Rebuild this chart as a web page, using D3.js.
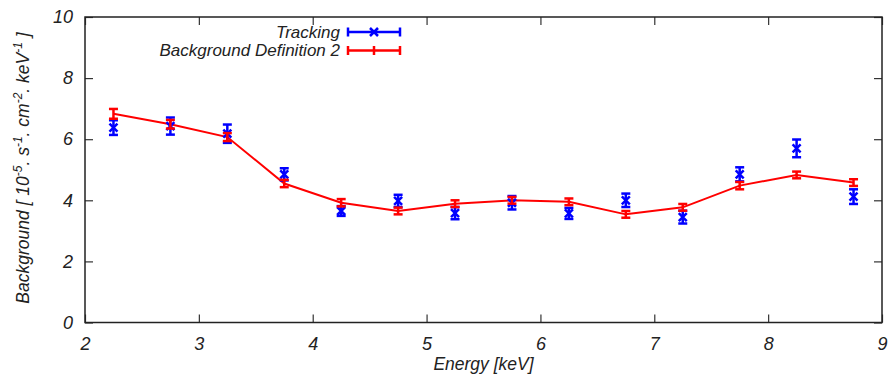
<!DOCTYPE html>
<html><head><meta charset="utf-8">
<script src="https://cdn.jsdelivr.net/npm/d3@7/dist/d3.min.js"></script>
<style>
body{margin:0;background:#fff;}
text{font-family:"Liberation Sans",Arial,sans-serif;font-style:italic;fill:#222;}
</style></head>
<body><svg id="c" width="888" height="376"></svg>
<script>
const energy = [2.25,2.75,3.25,3.75,4.25,4.75,5.25,5.75,6.25,6.75,7.25,7.75,8.25,8.75];
const trackingVal = [6.38,6.43,6.18,4.85,3.65,3.98,3.58,3.92,3.57,4.00,3.45,4.85,5.70,4.12];
const trackingErr = [0.24,0.28,0.30,0.20,0.16,0.20,0.20,0.22,0.18,0.22,0.21,0.23,0.29,0.24];
const bg2Val = [6.83,6.49,6.07,4.55,3.92,3.65,3.89,4.00,3.95,3.54,3.77,4.48,4.83,4.58];
const bg2Err = [0.16,0.14,0.13,0.12,0.12,0.11,0.11,0.11,0.11,0.11,0.11,0.12,0.11,0.11];
const xTicks = [2,3,4,5,6,7,8,9];
const yTicks = [0,2,4,6,8,10];
const seriesNames = ["Tracking","Background Definition 2"];

const svg = d3.select("#c");
const L=85,R=882,T=17,B=322.5;
const x = d3.scaleLinear().domain([2,9]).range([L,R]);
const y = d3.scaleLinear().domain([0,10]).range([B,T]);
const tl = 8;
const fmt = d3.format("d");

const gx = svg.append("g").attr("transform",`translate(0,${B})`)
  .call(d3.axisBottom(x).tickValues(xTicks).tickFormat(fmt).tickSizeInner(-tl).tickSizeOuter(0));
const gxt = svg.append("g").attr("transform",`translate(0,${T})`)
  .call(d3.axisTop(x).tickValues(xTicks).tickSizeInner(-tl).tickSizeOuter(0).tickFormat(""));
const gy = svg.append("g").attr("transform",`translate(${L},0)`)
  .call(d3.axisLeft(y).tickValues(yTicks).tickFormat(fmt).tickSizeInner(-tl).tickSizeOuter(0).tickPadding(12));
const gyr = svg.append("g").attr("transform",`translate(${R},0)`)
  .call(d3.axisRight(y).tickValues(yTicks).tickSizeInner(-tl).tickSizeOuter(0).tickFormat(""));
[gx,gxt,gy,gyr].forEach(g=>{
  g.select(".domain").remove();
  g.selectAll(".tick line").attr("stroke","#333").attr("stroke-width",1.2);
  g.selectAll("text").attr("font-family","Liberation Sans, Arial, sans-serif").attr("font-style","italic").attr("font-size",18).attr("fill","#222");
});
gx.selectAll("text").attr("dy","0.71em").attr("y",15);
svg.append("rect").attr("x",L).attr("y",T).attr("width",R-L).attr("height",B-T)
  .attr("fill","none").attr("stroke","#222").attr("stroke-width",1.5);

svg.append("text").attr("x",(L+R)/2).attr("y",370).attr("text-anchor","middle").attr("font-size",17.5).text("Energy [keV]");
const yl = svg.append("text").attr("transform","translate(29,168) rotate(-90)").attr("text-anchor","middle").attr("font-size",17.5);
const parts = [["Background [ 10",0],["-5",1],[". s",0],["-1",1],[". cm",0],["-2",1],[". keV",0],["-1",1],[" ]",0]];
let prevSup=false;
parts.forEach(([t,s])=>{
  const sp = yl.append("tspan").text(t);
  if(s){sp.attr("dy",-7).attr("font-size",12);}
  else if(prevSup){sp.attr("dy",7);}
  prevSup=!!s;
});

function drawSeries(vals, errs, color, cross){
  const g = svg.append("g");
  const cap=4.5;
  energy.forEach((e,i)=>{
    const cx=x(e), y1=y(vals[i]-errs[i]), y2=y(vals[i]+errs[i]);
    g.append("line").attr("x1",cx).attr("x2",cx).attr("y1",y1).attr("y2",y2).attr("stroke",color).attr("stroke-width",2.5);
    g.append("line").attr("x1",cx-cap).attr("x2",cx+cap).attr("y1",y1).attr("y2",y1).attr("stroke",color).attr("stroke-width",2.5);
    g.append("line").attr("x1",cx-cap).attr("x2",cx+cap).attr("y1",y2).attr("y2",y2).attr("stroke",color).attr("stroke-width",2.5);
    if(cross){
      const cy=y(vals[i]), s=4;
      g.append("path").attr("d",`M${cx-s},${cy-s}L${cx+s},${cy+s}M${cx-s},${cy+s}L${cx+s},${cy-s}`).attr("stroke",color).attr("stroke-width",2.5);
    }
  });
}
svg.append("path").datum(energy.map((e,i)=>[e,bg2Val[i]]))
  .attr("d",d3.line().x(d=>x(d[0])).y(d=>y(d[1])))
  .attr("fill","none").attr("stroke","#ff0000").attr("stroke-width",2);
drawSeries(trackingVal,trackingErr,"#0000ff",true);
drawSeries(bg2Val,bg2Err,"#ff0000",false);

const lg = svg.append("g");
const lx1=348, lx2=400;
[[seriesNames[0],"#0000ff",32,true],[seriesNames[1],"#ff0000",50.5,false]].forEach(([name,col,ly,cross])=>{
  lg.append("text").attr("x",340).attr("y",ly).attr("dy","0.35em").attr("text-anchor","end").attr("font-size",17).text(name);
  lg.append("line").attr("x1",lx1).attr("x2",lx2).attr("y1",ly).attr("y2",ly).attr("stroke",col).attr("stroke-width",2.5);
  [lx1,lx2].forEach(xx=>lg.append("line").attr("x1",xx).attr("x2",xx).attr("y1",ly-4.5).attr("y2",ly+4.5).attr("stroke",col).attr("stroke-width",2.5));
  const mx=(lx1+lx2)/2;
  if(cross){
    lg.append("path").attr("d",`M${mx-4},${ly-4}L${mx+4},${ly+4}M${mx-4},${ly+4}L${mx+4},${ly-4}`).attr("stroke",col).attr("stroke-width",2.5);
  } else {
    lg.append("line").attr("x1",mx).attr("x2",mx).attr("y1",ly-4.5).attr("y2",ly+4.5).attr("stroke",col).attr("stroke-width",2.5);
  }
});
</script></body></html>
